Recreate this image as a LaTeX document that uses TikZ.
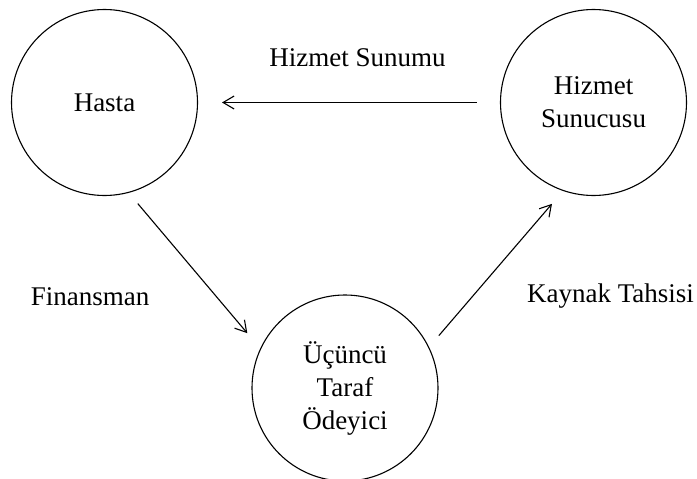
\documentclass[tikz,border=0pt]{standalone}
\usepackage{fontspec}
\setmainfont{Liberation Serif}
\usetikzlibrary{arrows.meta}
\begin{document}
\begin{tikzpicture}[x=1pt,y=-1pt,
  party/.style={draw, circle, line width=1.1pt, minimum size=186pt, inner sep=0pt,
    align=center, font=\fontsize{27}{33}\selectfont},
  lbl/.style={font=\fontsize{27}{33}\selectfont, inner sep=0pt},
  flow/.style={line width=1.1pt, -{Straight Barb[length=11pt,width=13pt,line width=1.1pt]}}]
  \useasboundingbox (0,0) rectangle (697,479);
  % the three parties
  \node[party] (hasta) at (104.5,102.5) {Hasta};
  \node[party] (sunucu) at (593.5,102.5) {Hizmet\\Sunucusu};
  \node[party] (odeyici) at (345,388) {Üçüncü\\Taraf\\Ödeyici};
  % flows between them
  \draw[flow, shorten <=23pt, shorten >=24pt] (sunucu.west) -- (hasta.east);
  \draw[flow, shorten <=14pt, shorten >=20pt] (hasta.-75) -- (odeyici.155);
  \draw[flow, shorten <=15pt, shorten >=17pt] (odeyici.26) -- (sunucu.251);
  % flow labels
  \node[lbl] (l1) at (357.5,58) {Hizmet Sunumu};
  \node[lbl] (l2) at (90,297) {Finansman};
  \node[lbl] (l3) at (610.5,296) {Kaynak Tahsisi};
\end{tikzpicture}
\end{document}
